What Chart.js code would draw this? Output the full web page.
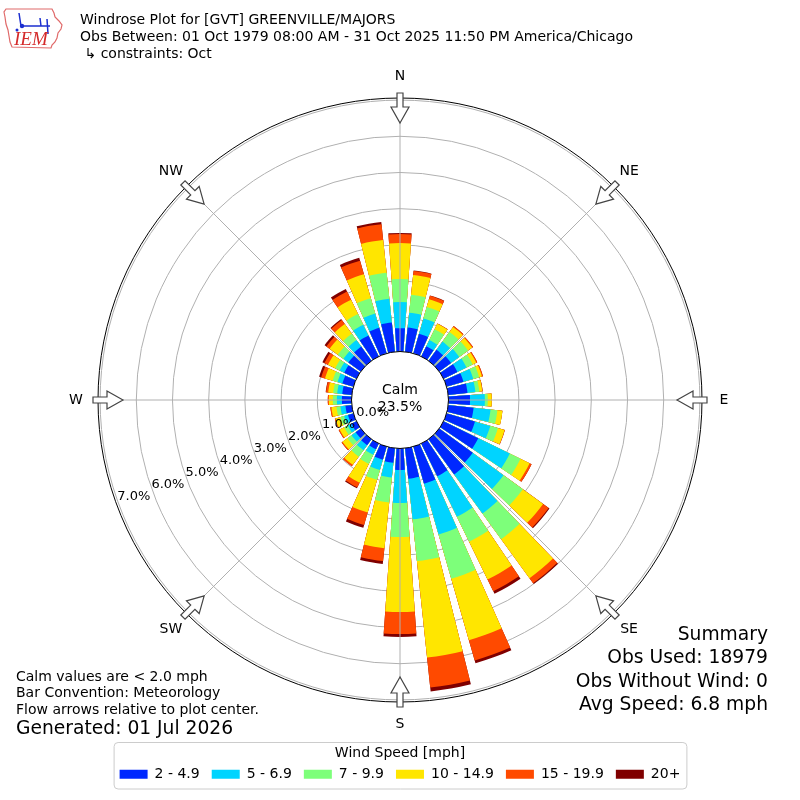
<!DOCTYPE html>
<html>
<head>
<meta charset="utf-8">
<script src="https://cdn.jsdelivr.net/npm/chart.js@4.4.0/dist/chart.umd.min.js"></script>
<style>
  html, body { margin: 0; padding: 0; background: #fff; }
  #rose { display: block; }
</style>
</head>
<body>
<canvas id="rose" width="800" height="800"></canvas>
<script>
Chart.defaults.font.family = "'DejaVu Sans', sans-serif";
Chart.defaults.color = '#000';

// ==========================================
// DATA (percent of observations per direction)
// ==========================================
const directions = [0, 10, 20, 30, 40, 50, 60, 70, 80, 90, 100, 110, 120, 130, 140, 150, 160, 170,
                    180, 190, 200, 210, 220, 230, 240, 250, 260, 270, 280, 290, 300, 310, 320, 330, 340, 350];
const speedBins = ['2 - 4.9', '5 - 6.9', '7 - 9.9', '10 - 14.9', '15 - 19.9', '20+'];
const binColors = ['#0028ff', '#00d4ff', '#7dff7a', '#ffe600', '#ff4a00', '#800000'];

const speed2  = [0.70, 0.73, 0.62, 0.37, 0.43, 0.46, 0.48, 0.54, 0.59, 0.65, 0.76, 0.87, 1.12, 1.20, 1.26, 1.06, 1.12, 0.90,
                 0.65, 0.46, 0.43, 0.23, 0.26, 0.23, 0.21, 0.21, 0.23, 0.32, 0.32, 0.37, 0.43, 0.48, 0.54, 0.70, 0.79, 0.87];
const speed5  = [0.72, 0.41, 0.44, 0.19, 0.28, 0.28, 0.28, 0.28, 0.22, 0.41, 0.47, 0.44, 0.97, 1.05, 1.33, 1.24, 1.46, 1.13,
                 0.91, 0.41, 0.30, 0.17, 0.17, 0.14, 0.11, 0.11, 0.14, 0.14, 0.14, 0.14, 0.14, 0.17, 0.22, 0.33, 0.41, 0.66];
const speed7  = [0.64, 0.50, 0.33, 0.33, 0.33, 0.30, 0.19, 0.17, 0.11, 0.08, 0.19, 0.22, 0.33, 0.66, 0.88, 0.77, 1.27, 1.16,
                 0.94, 0.69, 0.28, 0.28, 0.22, 0.14, 0.11, 0.11, 0.11, 0.11, 0.11, 0.14, 0.14, 0.19, 0.22, 0.33, 0.44, 0.72];
const speed10 = [0.99, 0.55, 0.22, 0.17, 0.17, 0.14, 0.11, 0.08, 0.08, 0.11, 0.14, 0.19, 0.28, 0.69, 1.33, 1.16, 1.77, 2.68,
                 2.07, 1.27, 0.94, 0.58, 0.28, 0.17, 0.14, 0.14, 0.14, 0.11, 0.14, 0.22, 0.22, 0.28, 0.33, 0.44, 0.69, 0.91];
const speed15 = [0.25, 0.11, 0.10, 0.01, 0.03, 0.03, 0.03, 0.03, 0.01, 0.00, 0.00, 0.01, 0.06, 0.19, 0.17, 0.36, 0.58, 0.83,
                 0.61, 0.36, 0.36, 0.14, 0.05, 0.03, 0.03, 0.02, 0.03, 0.03, 0.06, 0.11, 0.11, 0.11, 0.14, 0.25, 0.39, 0.44];
const speed20 = [0.03, 0.01, 0.01, 0.00, 0.00, 0.00, 0.00, 0.00, 0.00, 0.00, 0.00, 0.00, 0.00, 0.03, 0.03, 0.08, 0.08, 0.11,
                 0.08, 0.08, 0.08, 0.03, 0.00, 0.00, 0.00, 0.00, 0.00, 0.00, 0.01, 0.06, 0.06, 0.06, 0.03, 0.08, 0.08, 0.06];

const ringTicks = [0, 1, 2, 3, 4, 5, 6, 7];
const compassLabels = ['N', 'NE', 'E', 'SE', 'S', 'SW', 'W', 'NW'];
const calmPct = 23.5;

const titleLines = [
    'Windrose Plot for [GVT] GREENVILLE/MAJORS',
    'Obs Between: 01 Oct 1979 08:00 AM - 31 Oct 2025 11:50 PM America/Chicago',
    ' \u21B3 constraints: Oct'
];
const noteLines = ['Calm values are < 2.0 mph', 'Bar Convention: Meteorology', 'Flow arrows relative to plot center.'];
const generatedText = 'Generated: 01 Jul 2026';
const summaryLines = ['Summary', 'Obs Used: 18979', 'Obs Without Wind: 0', 'Avg Speed: 6.8 mph'];

// bar / gap widths in degrees (36 sectors of 10 deg)
const barWidth = 8;
const gapWidth = 2;

// stacked totals: each ring of colour is drawn from the centre out to its cumulative value
const bins = [speed2, speed5, speed7, speed10, speed15, speed20];
const cumulative = bins.map((_, k) =>
    directions.map((d, i) => bins.slice(0, k + 1).reduce((s, b) => s + b[i], 0)));

// ==========================================
// DECORATION PLUGIN (compass, calm circle, texts)
// ==========================================
function drawLogo(ctx) {
    ctx.save();
    ctx.strokeStyle = '#e06a6a';
    ctx.lineWidth = 1.2;
    const outline = [[6, 9], [52, 9], [54, 13], [55, 17], [59, 21], [62, 25], [61, 29], [58, 33], [57, 38],
                     [55, 42], [52, 45], [51, 48], [12, 47], [10, 42], [9, 36], [8, 30], [6, 24], [5, 17], [4, 12]];
    ctx.beginPath();
    outline.forEach(([x, y], i) => i ? ctx.lineTo(x, y) : ctx.moveTo(x, y));
    ctx.closePath();
    ctx.stroke();

    ctx.strokeStyle = '#1c2fd0';
    ctx.fillStyle = '#1c2fd0';
    ctx.lineWidth = 1.5;
    ctx.beginPath();
    ctx.moveTo(19, 13); ctx.lineTo(21, 26);
    ctx.moveTo(22, 26); ctx.lineTo(50, 26);
    ctx.moveTo(40, 18); ctx.lineTo(41, 26);
    ctx.moveTo(47, 19); ctx.lineTo(48, 34);
    ctx.stroke();
    ctx.beginPath(); ctx.arc(22, 26, 2.2, 0, Math.PI * 2); ctx.fill();
    ctx.beginPath(); ctx.arc(17, 30, 1.5, 0, Math.PI * 2); ctx.fill();

    ctx.fillStyle = '#d42a2a';
    ctx.font = "italic 19px 'Liberation Serif', serif";
    ctx.textAlign = 'left';
    ctx.textBaseline = 'alphabetic';
    ctx.fillText('IEM', 14, 45);
    ctx.restore();
}

const roseDecor = {
    id: 'roseDecor',
    afterDraw(chart) {
        const ctx = chart.ctx;
        const scale = chart.scales.r;
        const cx = scale.xCenter, cy = scale.yCenter, R = scale.drawingArea;
        const rad = d => d * Math.PI / 180;
        const pt = (deg, dist) => [cx + dist * Math.sin(rad(deg)), cy - dist * Math.cos(rad(deg))];

        ctx.save();

        // compass spokes
        ctx.strokeStyle = '#b0b0b0';
        ctx.lineWidth = 1;
        compassLabels.forEach((lab, i) => {
            const [x, y] = pt(i * 45, R);
            ctx.beginPath(); ctx.moveTo(cx, cy); ctx.lineTo(x, y); ctx.stroke();
        });

        // outer frame
        ctx.strokeStyle = '#000';
        ctx.beginPath(); ctx.arc(cx, cy, R, 0, Math.PI * 2); ctx.stroke();

        // calm circle
        const rc = scale.getDistanceFromCenterForValue(0) + 2;
        ctx.fillStyle = '#fff';
        ctx.beginPath(); ctx.arc(cx, cy, rc, 0, Math.PI * 2); ctx.fill(); ctx.stroke();

        ctx.fillStyle = '#000';
        ctx.font = "14px 'DejaVu Sans'";
        ctx.textAlign = 'center';
        ctx.textBaseline = 'middle';
        ctx.fillText('Calm', cx, cy - 9.5);
        ctx.fillText(calmPct.toFixed(1) + '%', cx, cy + 7.5);

        // ring labels, anchored lower-left on each ring
        ctx.font = "13px 'DejaVu Sans'";
        ctx.textAlign = 'left';
        ctx.textBaseline = 'alphabetic';
        ringTicks.forEach(v => {
            const [x, y] = pt(250.5, scale.getDistanceFromCenterForValue(v));
            ctx.fillText(v.toFixed(1) + '%', x, y);
        });

        // flow arrows + direction names
        ctx.font = "14px 'DejaVu Sans'";
        ctx.textAlign = 'center';
        ctx.textBaseline = 'middle';
        const arrow = [[R - 25, 0], [R - 9, 9], [R - 9, 3], [R + 5, 3], [R + 5, -3], [R - 9, -3], [R - 9, -9]];
        compassLabels.forEach((lab, i) => {
            const a = rad(i * 45);
            const ux = Math.sin(a), uy = -Math.cos(a), wx = Math.cos(a), wy = Math.sin(a);
            ctx.beginPath();
            arrow.forEach(([u, w], j) => {
                const x = cx + u * ux + w * wx, y = cy + u * uy + w * wy;
                j ? ctx.lineTo(x, y) : ctx.moveTo(x, y);
            });
            ctx.closePath();
            ctx.fillStyle = '#fff';
            ctx.fill();
            ctx.strokeStyle = '#444';
            ctx.lineWidth = 1.2;
            ctx.stroke();
            const [lx, ly] = pt(i * 45, R + 22);
            ctx.fillStyle = '#000';
            ctx.fillText(lab, lx, ly);
        });

        // header
        ctx.textAlign = 'left';
        ctx.font = "14px 'DejaVu Sans'";
        titleLines.forEach((t, i) => ctx.fillText(t, 80, 20 + i * 17));

        // notes
        noteLines.forEach((t, i) => ctx.fillText(t, 16, 677 + i * 16.5));
        ctx.font = "18.7px 'DejaVu Sans'";
        ctx.fillText(generatedText, 16, 729);

        // summary
        ctx.textAlign = 'right';
        summaryLines.forEach((t, i) => ctx.fillText(t, 768, 635 + i * 23.4));

        // legend frame
        const lg = chart.legend;
        if (lg && lg.legendHitBoxes && lg.legendHitBoxes.length) {
            const hb = lg.legendHitBoxes;
            const x0 = hb[0].left - 6;
            const x1 = hb[hb.length - 1].left + hb[hb.length - 1].width + 6;
            const y0 = lg.top, y1 = lg.top + 46.5;
            ctx.strokeStyle = '#cccccc';
            ctx.lineWidth = 1;
            ctx.beginPath();
            ctx.roundRect(x0 + 0.5, y0 + 0.5, x1 - x0, y1 - y0, 4);
            ctx.stroke();
        }

        drawLogo(ctx);
        ctx.restore();
    }
};

// ==========================================
// CHART
// ==========================================
const slotLabels = directions.flatMap(d => [d + '\u00b0', '']);

const datasets = cumulative.map((vals, k) => ({
    label: speedBins[k],
    data: vals.flatMap(v => [v, null]),
    backgroundColor: ctx => (ctx.dataIndex % 2 ? 'rgba(0,0,0,0)' : binColors[k]),
    borderWidth: 0,
    angle: ctx => (ctx.dataIndex % 2 ? gapWidth : barWidth)
}));

new Chart(document.getElementById('rose'), {
    type: 'polarArea',
    data: { labels: slotLabels, datasets: datasets },
    options: {
        responsive: false,
        devicePixelRatio: 1,
        animation: false,
        events: [],
        layout: { padding: { top: 58, bottom: 8.7, left: 98, right: 98 } },
        scales: {
            r: {
                min: -1.2845,
                max: 7.058,
                startAngle: -barWidth / 2,
                z: 1,
                ticks: { display: false, stepSize: 1, includeBounds: false },
                grid: { color: '#b0b0b0', lineWidth: 1, circular: true },
                angleLines: { display: false },
                pointLabels: { display: false }
            }
        },
        plugins: {
            tooltip: { enabled: false },
            legend: {
                position: 'bottom',
                title: {
                    display: true,
                    text: 'Wind Speed [mph]',
                    color: '#000',
                    font: { size: 14 },
                    padding: { top: 4, bottom: -7.5 }
                },
                labels: {
                    boxWidth: 28,
                    boxHeight: 9,
                    padding: 12,
                    color: '#000',
                    font: { size: 14 },
                    generateLabels: chart => chart.data.datasets.map((ds, k) => ({
                        text: ds.label,
                        fillStyle: binColors[k],
                        strokeStyle: binColors[k],
                        lineWidth: 0,
                        hidden: false,
                        datasetIndex: k
                    }))
                }
            }
        }
    },
    plugins: [roseDecor]
});
</script>
</body>
</html>
